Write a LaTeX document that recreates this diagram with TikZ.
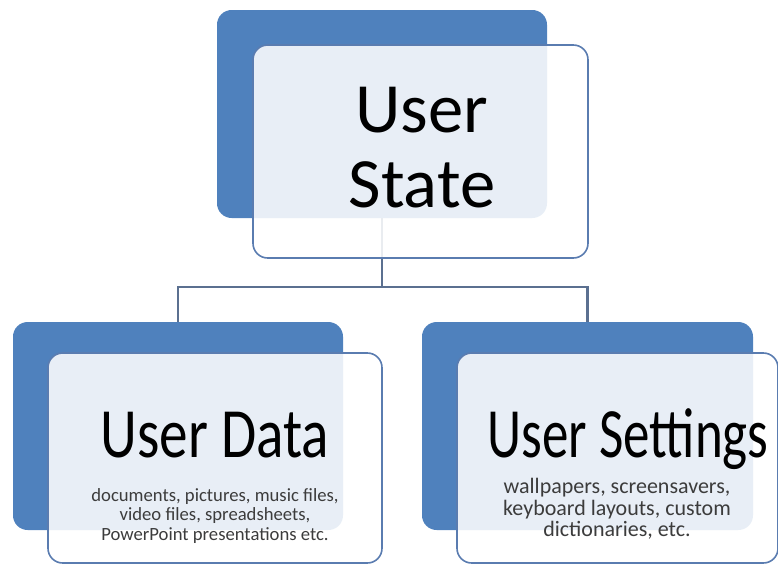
\documentclass[tikz,border=0pt]{standalone}
\usepackage{fontspec}
\setmainfont{Carlito}
\definecolor{boxblue}{HTML}{4F81BD}
\definecolor{edgeblue}{HTML}{5A7CB0}
\definecolor{linkgray}{HTML}{5B7090}
\definecolor{notegray}{HTML}{3C3C3C}
\tikzset{
  backbox/.style={fill=boxblue, draw=none, rounded corners=11pt, inner sep=0pt},
  frontbox/.style={fill=white, fill opacity=0.87, draw=edgeblue, line width=1.2pt,
                   rounded corners=11pt, inner sep=0pt},
  link/.style={draw=linkgray, line width=1.9pt},
  bigtitle/.style={font=\fontsize{53}{56}\selectfont, text=black, inner sep=0pt, anchor=base},
  note/.style={text=notegray, inner sep=0pt, align=center}
}
\begin{document}
\begin{tikzpicture}[x=0.75pt, y=-0.75pt]
  \useasboundingbox (0,0) rectangle (778,565);
  \clip (0,0) rectangle (778,565);

  % back (solid blue) boxes
  \node[backbox, minimum width=247.5pt, minimum height=156pt] (sb) at (382,114) {};
  \node[backbox, minimum width=247.5pt, minimum height=156pt] (db) at (178,426) {};
  \node[backbox, minimum width=248.25pt, minimum height=156pt] (cb) at (587.5,426) {};

  % tree connectors
  \coordinate (fork) at (382,287);
  \draw[link] (sb.south) -- (fork) -| (db.north);
  \draw[link] (fork) -| (cb.north);

  % translucent front panels
  \node[frontbox, minimum width=251.25pt, minimum height=159.75pt] (sf) at (420.5,151.5) {};
  \node[frontbox, minimum width=250.5pt, minimum height=157.5pt] (df) at (215,458) {};
  \node[frontbox, minimum width=240.75pt, minimum height=157.5pt] (cf) at (617.5,458) {};

  % titles
  \node[bigtitle] (s1) at (422,132) {User};
  \node[bigtitle] (s2) at (422,207) {State};
  \node[bigtitle] (dt) at (215,457) {\scalebox{0.81}[1]{User Data}};
  \node[bigtitle] (ct) at (628,457) {\scalebox{0.75}[1]{User Settings}};

  % descriptions
  \node[note, font=\fontsize{14}{14.6}\selectfont] (dn) at (215,516)
    {documents, pictures, music files,\\video files, spreadsheets,\\PowerPoint presentations etc.};
  \node[note, font=\fontsize{16.5}{16}\selectfont] (cn) at (617,509)
    {wallpapers, screensavers,\\keyboard layouts, custom\\dictionaries, etc.};
\end{tikzpicture}
\end{document}
